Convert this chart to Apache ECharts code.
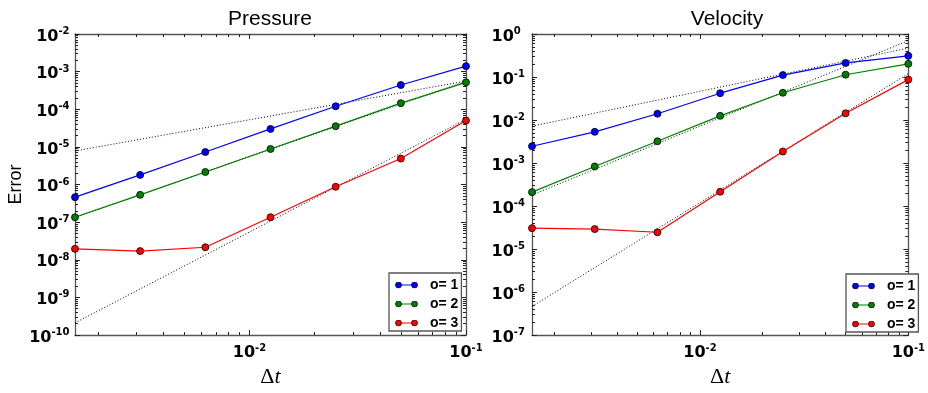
<!DOCTYPE html>
<html><head><meta charset="utf-8">
<script src="https://cdn.jsdelivr.net/npm/echarts@6/dist/echarts.min.js"></script>
<style>html,body{margin:0;padding:0;background:#fff}#c{width:928px;height:393px}</style>
</head><body><div id="c"></div>
<script>
// ---- data ----
const dt = [0.0015625, 0.003125, 0.00625, 0.0125, 0.025, 0.05, 0.1];
const seriesNames = ['o= 1', 'o= 2', 'o= 3'];
const seriesColors = ['#0000ff', '#008000', '#ff0000'];
const titles = ['Pressure', 'Velocity'];

const pressureO1 = [4.6e-7, 1.8e-6, 7.3e-6, 3.0e-5, 1.2e-4, 4.4e-4, 1.4e-3];
const pressureO2 = [1.35e-7, 5.3e-7, 2.15e-6, 8.8e-6, 3.55e-5, 1.45e-4, 5.2e-4];
const pressureO3 = [1.95e-8, 1.7e-8, 2.15e-8, 1.35e-7, 8.7e-7, 4.9e-6, 5.0e-5];

const velocityO1 = [2.45e-3, 5.3e-3, 1.4e-2, 4.2e-2, 0.111, 0.213, 0.31];
const velocityO2 = [2.1e-4, 8.3e-4, 3.2e-3, 1.25e-2, 4.3e-2, 0.113, 0.202];
const velocityO3 = [3.05e-5, 2.9e-5, 2.45e-5, 2.15e-4, 1.85e-3, 1.43e-2, 0.087];

// dotted reference slopes (endpoints at dt[0] and dt[last])
const refDt = [0.0015625, 0.1];
const pressureRef1 = [7.8e-6, 5.6e-4];
const pressureRef2 = [1.35e-7, 5.5e-4];
const pressureRef3 = [2.1e-10, 5.4e-5];
const velocityRef1 = [7.2e-3, 0.47];
const velocityRef2 = [1.8e-4, 0.7];
const velocityRef3 = [4.6e-7, 0.12];

// tick labels
const xTickValues = [0.01, 0.1];
const pressureYTicks = [1e-10, 1e-9, 1e-8, 1e-7, 1e-6, 1e-5, 1e-4, 1e-3, 1e-2];
const velocityYTicks = [1e-7, 1e-6, 1e-5, 1e-4, 1e-3, 1e-2, 1e-1, 1];
const xRange = [0.0015625, 0.1];
const pressureYRange = [1e-10, 1e-2];
const velocityYRange = [1e-7, 1];

// ---- layout ----
const grids = [
  {left: 75, top: 34, width: 391, height: 303},
  {left: 532, top: 34, width: 390, height: 303}
];
const axisColor = '#555';

function minorTicks(lo, hi) {
  const out = [];
  for (let n = Math.floor(Math.log10(lo)); n <= Math.ceil(Math.log10(hi)); n++) {
    for (let k = 2; k <= 9; k++) {
      const v = +(k * Math.pow(10, n)).toPrecision(6);
      if (v > lo && v < hi) out.push(v);
    }
  }
  return out;
}
function majorTicks(lo, hi) {
  const out = [];
  for (let n = Math.ceil(Math.log10(lo) - 1e-9); n <= Math.floor(Math.log10(hi) + 1e-9); n++) out.push(+Math.pow(10, n).toPrecision(6));
  return out;
}
const richLabel = {
  b: {fontFamily: 'DejaVu Sans', fontWeight: 'bold', fontSize: 16, lineHeight: 20, color: '#000'},
  s: {fontFamily: 'DejaVu Sans', fontWeight: 'bold', fontSize: 10, lineHeight: 7, verticalAlign: 'top', color: '#000'}
};
function powFmt(v) { return '{b|10}{s|' + Math.round(Math.log10(v)) + '}'; }

const xAxes = [], yAxes = [];
function addAxes(gi, yRange, yLabels, yLabelAlign, yLabelMargin, yName) {
  const xMaj = majorTicks(xRange[0], xRange[1]);
  const xMin = minorTicks(xRange[0], xRange[1]);
  const yMaj = majorTicks(yRange[0], yRange[1]);
  const yMin = minorTicks(yRange[0], yRange[1]);
  const base = {gridIndex: gi, type: 'log', logBase: 10, splitLine: {show: false}, minorTick: {show: false}};
  // x: bottom main, bottom minor, top major, top minor
  xAxes.push(Object.assign({}, base, {
    position: 'bottom', min: xRange[0], max: xRange[1],
    axisLine: {show: true, lineStyle: {color: axisColor, width: 1.3}},
    axisTick: {show: true, inside: true, length: 5, customValues: xMaj, lineStyle: {color: '#222', width: 1}},
    axisLabel: {show: true, customValues: xTickValues, formatter: powFmt, rich: richLabel, margin: 8, hideOverlap: false},
    name: '{d|Δ}{t|t}', nameLocation: 'middle', nameGap: 31,
    nameTextStyle: {rich: {d: {fontFamily: 'Liberation Serif', fontSize: 22, color: '#000'}, t: {fontFamily: 'Liberation Serif', fontStyle: 'italic', fontSize: 22, color: '#000'}}}
  }));
  xAxes.push(Object.assign({}, base, {
    position: 'bottom', min: xRange[0], max: xRange[1], axisLine: {show: false},
    axisTick: {show: true, inside: true, length: 3, customValues: xMin, lineStyle: {color: '#222', width: 1}},
    axisLabel: {show: false}
  }));
  xAxes.push(Object.assign({}, base, {
    position: 'top', min: xRange[0], max: xRange[1],
    axisLine: {show: true, lineStyle: {color: axisColor, width: 1.3}},
    axisTick: {show: true, inside: true, length: 5, customValues: xMaj, lineStyle: {color: '#222', width: 1}},
    axisLabel: {show: false}
  }));
  xAxes.push(Object.assign({}, base, {
    position: 'top', min: xRange[0], max: xRange[1], axisLine: {show: false},
    axisTick: {show: true, inside: true, length: 3, customValues: xMin, lineStyle: {color: '#222', width: 1}},
    axisLabel: {show: false}
  }));
  // y: left main, left minor, right major, right minor
  const yMain = Object.assign({}, base, {
    position: 'left', min: yRange[0], max: yRange[1],
    axisLine: {show: true, lineStyle: {color: axisColor, width: 1.3}},
    axisTick: {show: true, inside: true, length: 5, customValues: yMaj, lineStyle: {color: '#222', width: 1}},
    axisLabel: {show: true, customValues: yLabels, formatter: powFmt, rich: richLabel, align: yLabelAlign, margin: yLabelMargin, padding: [5, 0, 0, 0], hideOverlap: false}
  });
  if (yName) {
    Object.assign(yMain, {name: yName, nameLocation: 'middle', nameGap: 50, nameRotate: 90,
      nameTextStyle: {fontFamily: 'Liberation Sans', fontSize: 18, color: '#000'}});
  }
  yAxes.push(yMain);
  yAxes.push(Object.assign({}, base, {
    position: 'left', min: yRange[0], max: yRange[1], axisLine: {show: false},
    axisTick: {show: true, inside: true, length: 3, customValues: yMin, lineStyle: {color: '#222', width: 1}},
    axisLabel: {show: false}
  }));
  yAxes.push(Object.assign({}, base, {
    position: 'right', min: yRange[0], max: yRange[1],
    axisLine: {show: true, lineStyle: {color: axisColor, width: 1.3}},
    axisTick: {show: true, inside: true, length: 5, customValues: yMaj, lineStyle: {color: '#222', width: 1}},
    axisLabel: {show: false}
  }));
  yAxes.push(Object.assign({}, base, {
    position: 'right', min: yRange[0], max: yRange[1], axisLine: {show: false},
    axisTick: {show: true, inside: true, length: 3, customValues: yMin, lineStyle: {color: '#222', width: 1}},
    axisLabel: {show: false}
  }));
}
addAxes(0, pressureYRange, pressureYTicks, 'right', 5.5, 'Error');
addAxes(1, velocityYRange, velocityYTicks, 'left', 40.5, null);

function pairs(xs, ys) { return xs.map((x, i) => [x, ys[i]]); }
function dataSeries(gi, idx, ys) {
  const c = seriesColors[idx];
  return {type: 'line', name: seriesNames[idx], xAxisIndex: gi * 4, yAxisIndex: gi * 4,
    data: pairs(dt, ys), symbol: 'circle', symbolSize: 7, z: 3, silent: true,
    lineStyle: {color: c, width: 1.2}, itemStyle: {color: c, borderColor: '#000', borderWidth: 0.8}};
}
function refSeries(gi, k, ys) {
  return {type: 'line', name: 'ref' + gi + '_' + k, xAxisIndex: gi * 4, yAxisIndex: gi * 4,
    data: pairs(refDt, ys), symbol: 'none', z: 2, silent: true,
    lineStyle: {color: '#000', width: 1, type: [1, 2]}};
}
const series = [
  refSeries(0, 1, pressureRef1), refSeries(0, 2, pressureRef2), refSeries(0, 3, pressureRef3),
  refSeries(1, 1, velocityRef1), refSeries(1, 2, velocityRef2), refSeries(1, 3, velocityRef3),
  dataSeries(0, 0, pressureO1), dataSeries(0, 1, pressureO2), dataSeries(0, 2, pressureO3),
  dataSeries(1, 0, velocityO1), dataSeries(1, 1, velocityO2), dataSeries(1, 2, velocityO3)
];

function legendIcon(color) {
  const svg = '<svg xmlns="http://www.w3.org/2000/svg" width="92" height="28" viewBox="0 0 23 7">' +
    '<line x1="3.5" y1="3.5" x2="19.5" y2="3.5" stroke="' + color + '" stroke-width="1"/>' +
    '<circle cx="3.5" cy="3.5" r="3" fill="' + color + '" stroke="#000" stroke-width="0.7"/>' +
    '<circle cx="19.5" cy="3.5" r="3" fill="' + color + '" stroke="#000" stroke-width="0.7"/></svg>';
  return 'image://data:image/svg+xml;charset=utf-8,' + encodeURIComponent(svg);
}
const legendPos = [{left: 389, top: 273}, {left: 846, top: 274}];
const legends = legendPos.map(p => ({
  orient: 'vertical', left: p.left, top: p.top, itemWidth: 23, itemHeight: 7, itemGap: 5,
  padding: [5, 3, 1, 6], backgroundColor: '#fff', borderColor: '#555', borderWidth: 1.3,
  selectedMode: false, z: 10,
  data: seriesNames.map((n, i) => ({name: n, icon: legendIcon(seriesColors[i])})),
  textStyle: {fontFamily: 'Liberation Sans', fontWeight: 'bold', fontSize: 14, color: '#000', padding: [0, 0, 0, 7]}
}));

const titleCenters = [270, 727];
const chart = echarts.init(document.getElementById('c'), null, {renderer: 'canvas'});
chart.setOption({
  animation: false,
  backgroundColor: '#fff',
  title: titles.map((t, i) => ({text: t, left: titleCenters[i], top: 9, padding: 0, textAlign: 'center',
    textStyle: {fontFamily: 'Liberation Sans', fontWeight: 'normal', fontSize: 21, color: '#000'}})),
  grid: grids,
  xAxis: xAxes,
  yAxis: yAxes,
  legend: legends,
  series: series
});
</script>
</body></html>
